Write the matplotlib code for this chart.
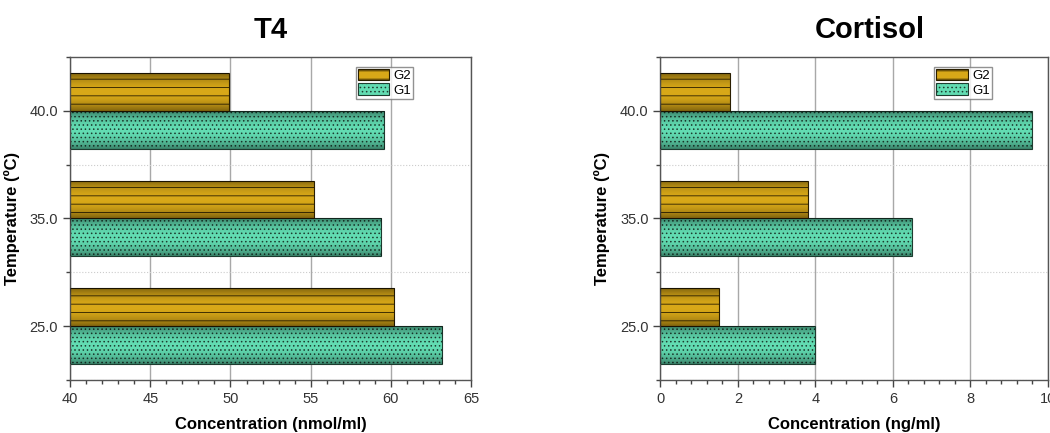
import matplotlib
matplotlib.use("Agg")
import matplotlib.pyplot as plt
import numpy as np
from matplotlib.ticker import MultipleLocator

plt.rcParams['font.family'] = ['Liberation Sans', 'DejaVu Sans']
plt.rcParams['hatch.linewidth'] = 0.6

# 數據
temps = ['25.0', '35.0', '40.0']
t4_g1 = [63.2, 59.4, 59.6]
t4_g2 = [60.2, 55.2, 49.9]
cort_g1 = [4.0, 6.5, 9.6]
cort_g2 = [1.5, 3.8, 1.8]

g1_color = '#62dcb2'
g2_color = '#d8a818'


def shade(ax, bars):
    """給柱子加上圓柱形的明暗漸層"""
    grad = np.abs(np.linspace(-1, 1, 64)) ** 2
    img = np.zeros((64, 1, 4))
    img[:, 0, 3] = 0.4 * grad
    xmin = ax.get_xlim()[0]
    for b in bars:
        x0, y0 = max(b.get_x(), xmin), b.get_y()
        x1 = b.get_x() + b.get_width()
        im = ax.imshow(img, extent=(x0, x1, y0, y0 + b.get_height()),
                       aspect='auto', origin='lower', zorder=3)
        im.set_clip_path(b)


def draw(ax, g1, g2, xlim, major, minor, title, xlabel, ylab_x, title_dx=0.0):
    y = np.arange(len(temps))
    h = 0.35
    b1 = ax.barh(y - h / 2, g1, height=h, color=g1_color, edgecolor='#1d3d30',
                 hatch='....', linewidth=0.8, label='G1', zorder=2)
    b2 = ax.barh(y + h / 2, g2, height=h, color=g2_color, edgecolor='#2a1e00',
                 hatch='--', linewidth=0.8, label='G2', zorder=2)

    ax.set_xlim(*xlim)
    ax.set_ylim(-0.5, len(temps) - 0.5)
    shade(ax, b1)
    shade(ax, b2)
    ax.set_xlim(*xlim)
    ax.set_ylim(-0.5, len(temps) - 0.5)

    ax.set_yticks(y)
    ax.set_yticklabels(temps)
    ax.set_yticks(np.arange(-0.5, len(temps), 1.0), minor=True)
    ax.xaxis.set_major_locator(MultipleLocator(major))
    ax.xaxis.set_minor_locator(MultipleLocator(minor))

    ax.grid(True, axis='x', which='major', color='#a8a8a8', lw=1.0, zorder=0)
    ax.grid(True, axis='y', which='minor', color='#cccccc', lw=0.8, ls=':', zorder=0)
    ax.set_axisbelow(True)

    ax.tick_params(axis='both', which='major', direction='out', length=5, width=1,
                   colors='#444444', labelsize=10.5, labelcolor='#333333')
    ax.tick_params(axis='both', which='minor', direction='out', length=3, width=1,
                   colors='#444444')
    for s in ax.spines.values():
        s.set_color('#555555')
        s.set_linewidth(1.0)

    ax.set_xlabel(xlabel, fontsize=12, fontweight='bold', labelpad=8)
    ax.set_ylabel('Temperature (ºC)', fontsize=12, fontweight='bold')
    ax.yaxis.set_label_coords(ylab_x, 0.5)
    ax.set_title(title, fontsize=21, fontweight='bold', pad=14, x=0.5 + title_dx)

    handles, labels = ax.get_legend_handles_labels()
    leg = ax.legend(handles[::-1], labels[::-1], loc='upper right',
                    bbox_to_anchor=(0.855, 0.97), fontsize=9.5, frameon=True,
                    fancybox=False, edgecolor='#777777', borderpad=0.15,
                    handlelength=2.4, handleheight=1.0, handletextpad=0.3,
                    labelspacing=0.1, borderaxespad=0)
    leg.get_frame().set_linewidth(1.0)


fig = plt.figure(figsize=(10.5, 4.33), dpi=100)
ax1 = fig.add_axes([0.0667, 0.1224, 0.382, 0.746])
ax2 = fig.add_axes([0.629, 0.1224, 0.369, 0.746])

draw(ax1, t4_g1, t4_g2, (40, 65), 5, 1, 'T4', 'Concentration (nmol/ml)', -0.125)
draw(ax2, cort_g1, cort_g2, (0, 10), 2, 0.4, 'Cortisol', 'Concentration (ng/ml)',
     -0.131, title_dx=0.04)

fig.savefig('out.png', dpi=100)
